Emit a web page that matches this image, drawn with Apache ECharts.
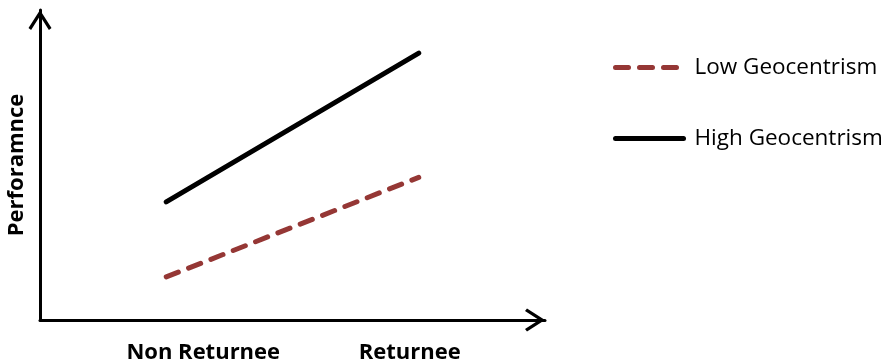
<!DOCTYPE html>
<html>
<head>
<meta charset="utf-8">
<script src="https://cdn.jsdelivr.net/npm/echarts@6/dist/echarts.min.js"></script>
<style>
  html, body { margin: 0; padding: 0; background: #fff; }
  #chart { width: 888px; height: 364px; }
</style>
</head>
<body>
<div id="chart"></div>
<script>
// Interaction plot: performance by returnee status for two geocentrism levels
const categories = ['Non Returnee', 'Returnee'];
const lowGeocentrism = [1.39, 4.6];
const highGeocentrism = [3.81, 8.61];
const seriesNames = ['Low Geocentrism', 'High Geocentrism'];
const yAxisTitle = 'Perforamnce';

const FONT = '"Open Sans", Lato, sans-serif';
const RED = '#953735';
// open chevron used as the axis arrow head (tip at top)
const chevron = 'path://M11.5,0 L23,18 L20.4,20 L11.5,6 L2.6,20 L0,18 Z';

const lowStyle = { color: RED, width: 5, type: [13, 11], cap: 'round' };
const highStyle = { color: '#000', width: 5, cap: 'round' };

const chart = echarts.init(document.getElementById('chart'), null, { renderer: 'canvas' });

chart.setOption({
  backgroundColor: '#ffffff',
  animation: false,
  grid: { left: 40, right: 343, top: 10, bottom: 44, containLabel: false, outerBoundsMode: 'none' },
  legend: {
    orient: 'vertical',
    left: 608,
    top: 51,
    itemWidth: 68,
    itemHeight: 14,
    itemGap: 48,
    data: [
      { name: seriesNames[0], lineStyle: lowStyle, itemStyle: { opacity: 0 } },
      { name: seriesNames[1], lineStyle: highStyle, itemStyle: { opacity: 0 } }
    ],
    textStyle: { fontFamily: FONT, fontSize: 22.5, color: '#000', padding: [0, 0, 0, 6] }
  },
  xAxis: {
    type: 'category',
    data: categories,
    boundaryGap: true,
    axisLine: {
      show: true,
      symbol: ['none', chevron],
      symbolSize: [23, 20],
      symbolOffset: [0, -10],
      lineStyle: { color: '#000', width: 3 }
    },
    axisTick: { show: false },
    splitLine: { show: false },
    axisLabel: {
      interval: 0,
      hideOverlap: false,
      margin: 22,
      fontFamily: FONT,
      fontSize: 22,
      fontWeight: 'bold',
      color: '#000',
      formatter: function (v, i) { return i === 0 ? '{a|' + v + '}' : '{b|' + v + '}'; },
      rich: {
        a: { fontFamily: FONT, fontSize: 22, fontWeight: 'bold', color: '#000', padding: [0, 0, 0, 74] },
        b: { fontFamily: FONT, fontSize: 22, fontWeight: 'bold', color: '#000', padding: [0, 18, 0, 0] }
      }
    }
  },
  yAxis: {
    type: 'value',
    min: 0,
    max: 10,
    name: yAxisTitle,
    nameLocation: 'middle',
    nameGap: 12,
    nameRotate: 90,
    nameTextStyle: { fontFamily: FONT, fontSize: 22, fontWeight: 'bold', color: '#000' },
    axisLine: {
      show: true,
      symbol: ['none', chevron],
      symbolSize: [23, 20],
      symbolOffset: [0, -10],
      lineStyle: { color: '#000', width: 3 }
    },
    axisTick: { show: false },
    axisLabel: { show: false },
    splitLine: { show: false }
  },
  series: [
    {
      name: seriesNames[0],
      type: 'line',
      data: lowGeocentrism,
      symbol: 'none',
      lineStyle: lowStyle,
      itemStyle: { color: RED }
    },
    {
      name: seriesNames[1],
      type: 'line',
      data: highGeocentrism,
      symbol: 'none',
      lineStyle: highStyle,
      itemStyle: { color: '#000' }
    }
  ]
});
</script>
</body>
</html>
